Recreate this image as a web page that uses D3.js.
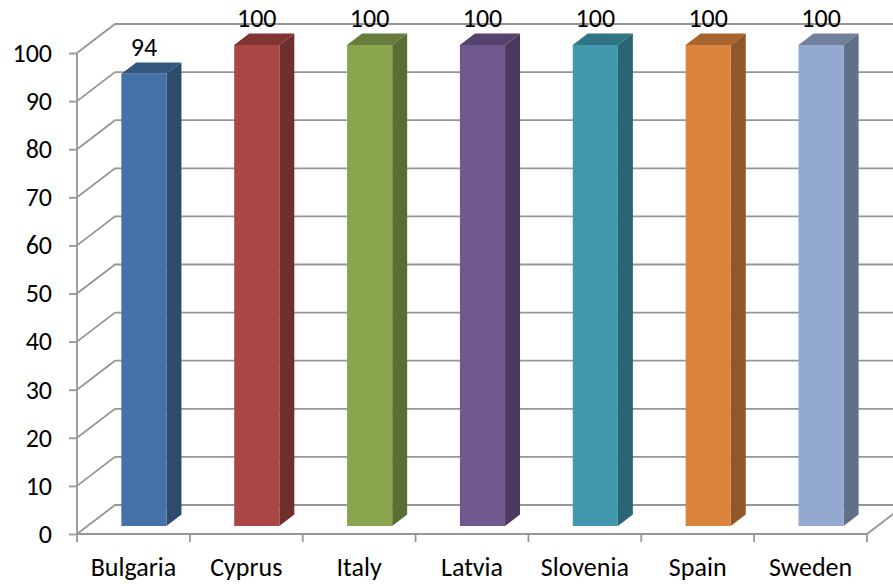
<!DOCTYPE html>
<html>
<head>
<meta charset="utf-8">
<script src="https://cdn.jsdelivr.net/npm/d3@7"></script>
<style>
  html, body { margin: 0; padding: 0; background: #fff; }
  svg { display: block; font-family: Carlito, Calibri, Lato, sans-serif; }
</style>
</head>
<body>
<svg id="chart" width="893" height="584"></svg>
<script>
// Chart data
const categories = ["Bulgaria", "Cyprus", "Italy", "Latvia", "Slovenia", "Spain", "Sweden"];
const values = [94, 100, 100, 100, 100, 100, 100];
const colors = ["#4572A7", "#AA4643", "#89A54E", "#71588F", "#4198AF", "#DB843D", "#93A9CF"];
const yTicks = [0, 10, 20, 30, 40, 50, 60, 70, 80, 90, 100];

(function () {
  const svg = d3.select("#chart");
  const fontSize = "26px";

  // Plot frame (front plane) and depth offset for the oblique 3D look
  const plotLeft = 77, plotRight = 867, plotBottom = 534, plotTop = 53;
  const DX = 38, DY = 29;          // full depth of the walls
  const z0 = 0.276, z1 = 0.67;     // depth span occupied by each column
  const barFrac = 0.4;             // column width as a share of the band

  const x = d3.scaleBand().domain(categories).range([plotLeft, plotRight]).padding(0);
  const y = d3.scaleLinear().domain([0, 100]).range([plotBottom, plotTop]);

  const proj = (px, v, z) => [px + z * DX, y(v) - z * DY];
  const pts = arr => arr.map(p => p.join(",")).join(" ");

  const gridColor = "#969696";
  const g = svg.append("g");

  // Side wall and back wall gridlines
  yTicks.forEach(v => {
    const a = proj(plotLeft, v, 0), b = proj(plotLeft, v, 1), c = proj(plotRight, v, 1);
    g.append("polyline")
      .attr("points", pts([a, b, c]))
      .attr("fill", "none")
      .attr("stroke", gridColor)
      .attr("stroke-width", 1.8);
  });

  // Floor edges
  const f0 = proj(plotLeft, 0, 0), f1 = proj(plotRight, 0, 0), f2 = proj(plotRight, 0, 1);
  g.append("polyline")
    .attr("points", pts([f0, f1, f2]))
    .attr("fill", "none")
    .attr("stroke", gridColor)
    .attr("stroke-width", 1.8);

  // Value axis line and ticks
  g.append("line")
    .attr("x1", plotLeft).attr("x2", plotLeft)
    .attr("y1", y(100)).attr("y2", y(0))
    .attr("stroke", gridColor).attr("stroke-width", 1.8);

  const yAxis = d3.axisLeft(y).tickValues(yTicks).tickSize(8).tickPadding(17).tickFormat(d3.format("d"));
  const yg = svg.append("g").attr("transform", `translate(${plotLeft},0)`).call(yAxis);
  yg.select(".domain").remove();
  yg.selectAll(".tick line").attr("stroke", gridColor).attr("stroke-width", 1.8);
  yg.selectAll(".tick text")
    .attr("fill", "#000")
    .style("font-size", fontSize)
    .style("font-family", "Carlito, Calibri, Lato, sans-serif");

  // Category axis ticks at band edges
  const edges = categories.map(c => x(c)).concat([plotRight]);
  g.selectAll("line.xtick").data(edges).join("line")
    .attr("class", "xtick")
    .attr("x1", d => d).attr("x2", d => d)
    .attr("y1", plotBottom).attr("y2", plotBottom + 8)
    .attr("stroke", gridColor).attr("stroke-width", 1.8);

  // Category labels
  svg.selectAll("text.xlabel").data(categories).join("text")
    .attr("class", "xlabel")
    .attr("x", d => x(d) + x.bandwidth() / 2)
    .attr("y", 576)
    .attr("text-anchor", "middle")
    .style("font-size", fontSize)
    .text(d => d);

  // Columns
  const bw = x.bandwidth() * barFrac;
  const shade = (c, k) => {
    const r = d3.rgb(c);
    return d3.rgb(r.r * k, r.g * k, r.b * k).formatHex();
  };

  const bars = svg.append("g");
  categories.forEach((cat, i) => {
    const v = values[i];
    const cx = x(cat) + x.bandwidth() / 2;
    const xl = cx - bw / 2, xr = cx + bw / 2;
    const A = proj(xl, 0, z0), B = proj(xr, 0, z0), C = proj(xr, v, z0), D = proj(xl, v, z0);
    const Bb = proj(xr, 0, z1), Cb = proj(xr, v, z1), Db = proj(xl, v, z1);
    // right side face
    bars.append("polygon").attr("points", pts([B, Bb, Cb, C])).attr("fill", shade(colors[i], 0.66));
    // top face
    bars.append("polygon").attr("points", pts([D, C, Cb, Db])).attr("fill", shade(colors[i], 0.76));
    // front face
    bars.append("polygon").attr("points", pts([A, B, C, D])).attr("fill", colors[i]);
    // value label
    bars.append("text")
      .attr("x", (A[0] + B[0]) / 2)
      .attr("y", D[1] - 18)
      .attr("text-anchor", "middle")
      .style("font-size", fontSize)
      .text(v);
  });
})();
</script>
</body>
</html>
